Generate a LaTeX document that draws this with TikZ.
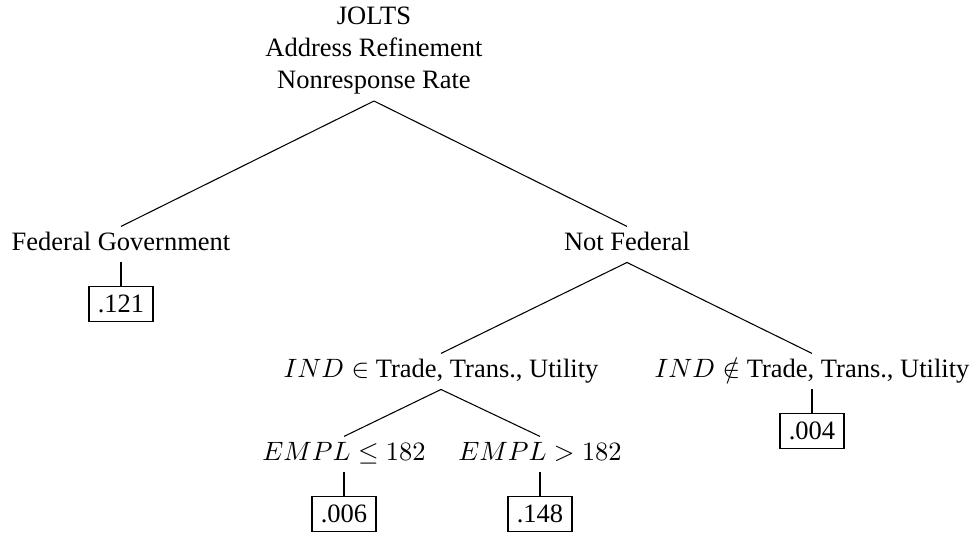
\documentclass[tikz,border=0pt]{standalone}
\usepackage{amsmath}
\usepackage{amssymb}
\usepackage{fontspec}
\setmainfont{Liberation Serif}
\usetikzlibrary{positioning}

\begin{document}
\begin{tikzpicture}[x=0.3774pt, y=-0.3774pt,
        split/.style={inner sep=0pt, text height=8.7pt, text depth=4.5pt, anchor=base},
        rate/.style={draw, rectangle, node distance=22.5pt}]
        \useasboundingbox (0,0) rectangle (974,533);

        \node[align=center, inner xsep=0pt, inner ysep=2.36pt, anchor=south] (ROOT) at (374,101)
            {JOLTS\\Address Refinement\\Nonresponse Rate};

        \node[split](FED) at (121,250) {Federal Government};
        \node[split](NFED) at (627,250) {Not Federal};

        \draw (ROOT.south) -- (FED.north);
        \draw (ROOT.south) -- (NFED.north);

        \node[rate, below of=FED](R1){.121};
        \draw (FED.south) -- (R1.north);

        \node[split](IND1) at (441,377) {$IND \in$ Trade, Trans., Utility};
        \node[split](IND2) at (812,377) {$IND \notin$ Trade, Trans., Utility};

        \draw (NFED.south) -- (IND1.north);
        \draw (NFED.south) -- (IND2.north);

        \node[rate, below of=IND2](R4){.004};
        \draw (IND2.south) -- (R4.north);

        \node[split](EMPL1) at (344,460) {$EMPL \leq 182$};
        \node[split](EMPL2) at (540,460) {$EMPL > 182$};

        \draw (IND1.south) -- (EMPL1.north);
        \draw (IND1.south) -- (EMPL2.north);

        \node[rate, below of=EMPL1](R2){.006};
        \node[rate, below of=EMPL2](R3){.148};

        \draw (EMPL1.south) -- (R2.north);
        \draw (EMPL2.south) -- (R3.north);
    \end{tikzpicture}
\end{document}
